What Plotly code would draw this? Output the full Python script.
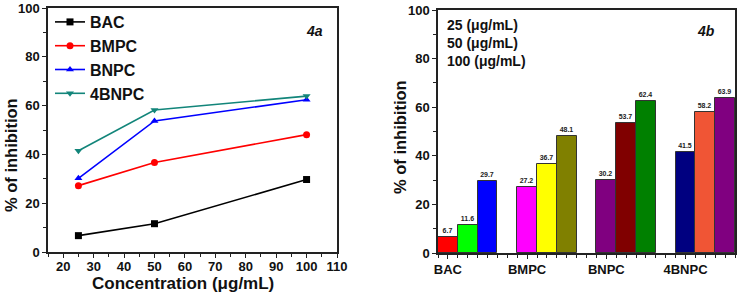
import plotly.graph_objects as go

conc = [25, 50, 100]
compounds = ["BAC", "BMPC", "BNPC", "4BNPC"]
values = {
    "BAC": [6.7, 11.6, 29.7],
    "BMPC": [27.2, 36.7, 48.1],
    "BNPC": [30.2, 53.7, 62.4],
    "4BNPC": [41.5, 58.2, 63.9],
}
line_colors = {"BAC": "#000000", "BMPC": "#ff0000", "BNPC": "#0000ff", "4BNPC": "#12857a"}
line_symbols = {"BAC": "square", "BMPC": "circle", "BNPC": "triangle-up", "4BNPC": "triangle-down"}
bar_colors = {
    "BAC": ["#ff0000", "#00ff00", "#0000ff"],
    "BMPC": ["#ff00ff", "#ffff00", "#808000"],
    "BNPC": ["#800080", "#800000", "#008000"],
    "4BNPC": ["#000080", "#f05535", "#800080"],
}
conc_labels = ["25 (μg/mL)", "50 (μg/mL)", "100 (μg/mL)"]
yticks = [0, 20, 40, 60, 80, 100]
xticks_a = [20, 30, 40, 50, 60, 70, 80, 90, 100, 110]

FONT = "Liberation Sans, Arial, sans-serif"
W, H = 739, 299

fig = go.Figure()

for c in compounds:
    fig.add_trace(go.Scatter(
        x=conc, y=values[c], name=c, mode="lines+markers",
        line=dict(color=line_colors[c], width=1.6),
        marker=dict(symbol=line_symbols[c], size=7, color=line_colors[c]),
        xaxis="x", yaxis="y",
    ))

bx, by, bc = [], [], []
for g, c in enumerate(compounds):
    for i, v in enumerate(values[c]):
        bx.append(g * 4 + i)
        by.append(v)
        bc.append(bar_colors[c][i])

fig.add_trace(go.Bar(
    x=bx, y=by, width=1.0, showlegend=False,
    marker=dict(color=bc, line=dict(color="#333333", width=1)),
    text=[f"{v:.1f}" for v in by], textposition="outside",
    textfont=dict(family=FONT, size=7, color="#222222", weight="bold"),
    cliponaxis=False, xaxis="x2", yaxis="y2",
))

def px_x(p):
    return p / W

def px_y(p):
    return 1 - p / H

axis_common = dict(
    showline=True, linecolor="#222222", linewidth=1.5, mirror=True,
    ticks="outside", ticklen=4, tickwidth=1.3, tickcolor="#222222",
    showgrid=False, zeroline=False, automargin=False,
    tickfont=dict(family=FONT, size=13, color="#111111", weight="bold"),
)

fig.update_layout(
    width=W, height=H,
    margin=dict(l=0, r=0, t=0, b=0, autoexpand=False),
    paper_bgcolor="white", plot_bgcolor="white",
    font=dict(family=FONT),
    bargap=0,
    xaxis=dict(domain=[px_x(48), px_x(337)], range=[15, 110], tickvals=xticks_a,
               minor=dict(dtick=5, ticks="outside", ticklen=3, tickcolor="#222222"),
               anchor="y", ticklabelstandoff=-2, **axis_common),
    yaxis=dict(domain=[px_y(252), px_y(8)], range=[0, 100], tickvals=yticks,
               minor=dict(dtick=10, ticks="outside", ticklen=3, tickcolor="#222222"),
               anchor="x", **axis_common),
    xaxis2=dict(domain=[px_x(438), px_x(735)], range=[-0.5, 14.5],
                tickvals=[0, 4, 8, 12], ticktext=compounds,
                minor=dict(dtick=0.5, tick0=-0.5, ticks="outside", ticklen=3, tickcolor="#222222"),
                anchor="y2", **axis_common),
    yaxis2=dict(domain=[px_y(253), px_y(10)], range=[0, 100], tickvals=yticks,
                minor=dict(dtick=10, ticks="outside", ticklen=3, tickcolor="#222222"),
                anchor="x2", **axis_common),
    legend=dict(x=px_x(50), y=px_y(5), xanchor="left", yanchor="top",
                bgcolor="rgba(0,0,0,0)", tracegroupgap=0, itemwidth=30,
                font=dict(family=FONT, size=16, color="#111111", weight="bold")),
)

annotations = [
    dict(text="% of inhibition", x=px_x(11), y=px_y(155), textangle=-90,
         font=dict(size=16.5, weight="bold", color="#111111")),
    dict(text="Concentration (μg/mL)", x=px_x(183), y=px_y(283),
         font=dict(size=17, weight="bold", color="#111111")),
    dict(text="% of inhibition", x=px_x(400), y=px_y(137), textangle=-90,
         font=dict(size=16.5, weight="bold", color="#111111")),
    dict(text="<i>4a</i>", x=px_x(314), y=px_y(31),
         font=dict(size=14, weight="bold", color="#111111")),
    dict(text="<i>4b</i>", x=px_x(706), y=px_y(31),
         font=dict(size=14, weight="bold", color="#111111")),
]
for k, lab in enumerate(conc_labels):
    annotations.append(dict(text=lab, x=px_x(445), y=px_y(25 + 18 * k), xanchor="left",
                            font=dict(size=14, weight="bold", color="#111111")))
for a in annotations:
    a.setdefault("xref", "paper")
    a.setdefault("yref", "paper")
    a.setdefault("showarrow", False)
    a.setdefault("xanchor", "center")
    a.setdefault("yanchor", "middle")
    a["font"]["family"] = FONT
fig.update_layout(annotations=annotations)

fig.write_html("out.html", config={"displayModeBar": False},
               post_script="document.body.style.margin='0';document.body.style.overflow='hidden';")
